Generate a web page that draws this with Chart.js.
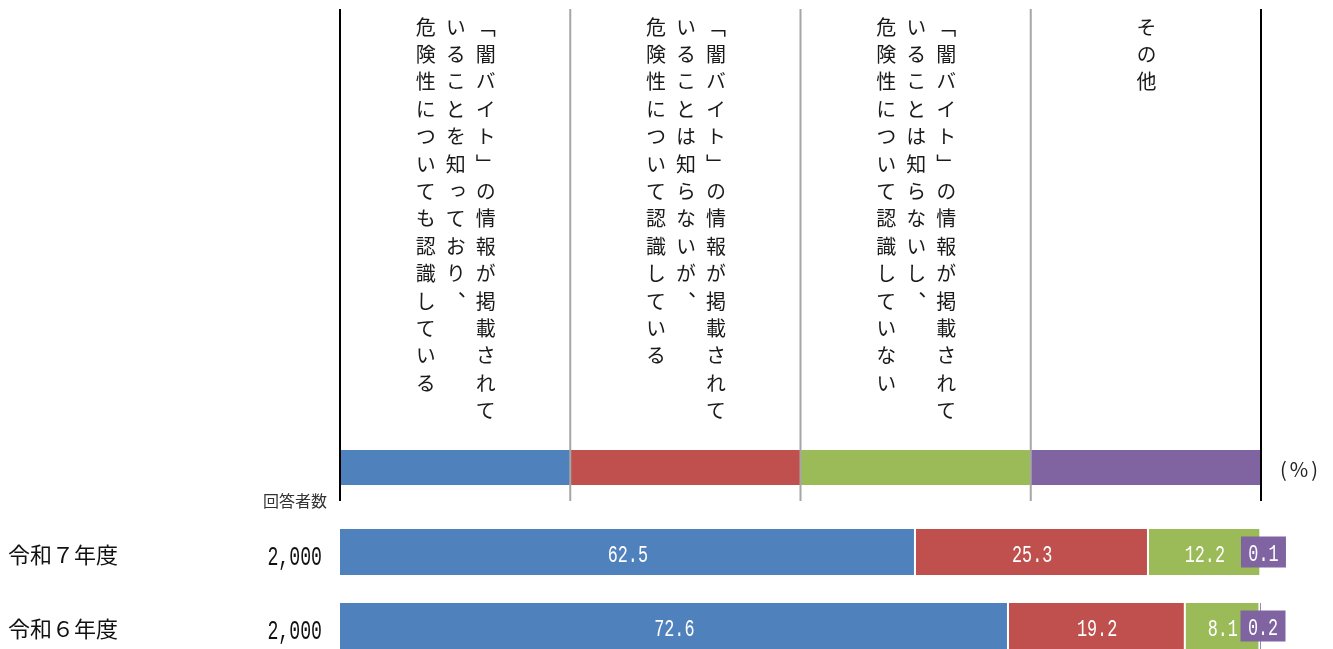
<!DOCTYPE html>
<html><head><meta charset="utf-8">
<script src="https://cdn.jsdelivr.net/npm/chart.js@4.4.1/dist/chart.umd.min.js"></script>
<style>
html,body{margin:0;padding:0;background:#fff;overflow:hidden;}
#wrap{position:relative;width:1333px;height:649px;overflow:hidden;}
#c{position:absolute;left:0;top:0;}
.vt{position:absolute;top:17px;writing-mode:vertical-rl;font-family:"Noto Sans CJK JP";font-size:20px;line-height:30px;letter-spacing:7.4px;white-space:pre;color:#1a1a1a;transform:translateX(-50%);}
</style></head><body>
<div id="wrap"><canvas id="c" width="1333" height="700"></canvas></div>
<script>
const categories = ['令和７年度', '令和６年度'];
const respondents = ['2,000', '2,000'];
const seriesNames = [
  '「闇バイト」の情報が掲載されて\nいることを知っており、\n危険性についても認識している',
  '「闇バイト」の情報が掲載されて\nいることは知らないが、\n危険性について認識している',
  '「闇バイト」の情報が掲載されて\nいることは知らないし、\n危険性について認識していない',
  'その他'
];
const knowAndAware = [62.5, 72.6];
const unknownButAware = [25.3, 19.2];
const unknownNotAware = [12.2, 8.1];
const other = [0.1, 0.2];
const series = [knowAndAware, unknownButAware, unknownNotAware, other];
const colors = ['#4F81BD', '#C0504D', '#9BBB59', '#8064A2'];

const MONO = '"Liberation Mono", "DejaVu Sans Mono", monospace';
const JP_FONT = '"Noto Sans CJK JP", sans-serif';

// vertical header texts (real HTML text)
const vtDivs = seriesNames.map(n => {
  const d = document.createElement('div');
  d.className = 'vt';
  d.textContent = n;
  document.getElementById('wrap').appendChild(d);
  return d;
});

// narrow monospaced number text
function narrowText(ctx, txt, x, y, size, sx, align) {
  ctx.save();
  ctx.font = size + 'px ' + MONO;
  ctx.textAlign = align;
  ctx.textBaseline = 'alphabetic';
  ctx.translate(x, y);
  ctx.scale(sx, 1);
  ctx.fillText(txt, 0, 0);
  ctx.restore();
}

const headerPlugin = {
  id: 'header',
  afterDraw(chart) {
    const ctx = chart.ctx;
    const xs = chart.scales.x;
    const q = [0, 25, 50, 75, 100].map(v => xs.getPixelForValue(v));
    ctx.save();
    for (let i = 0; i < 4; i++) {
      ctx.fillStyle = colors[i];
      ctx.fillRect(q[i], 450, q[i + 1] - q[i], 35);
      vtDivs[i].style.left = ((q[i] + q[i + 1]) / 2) + 'px';
    }
    ctx.strokeStyle = '#A6A6A6';
    ctx.lineWidth = 2;
    for (let i = 1; i < 4; i++) {
      ctx.beginPath(); ctx.moveTo(q[i], 9); ctx.lineTo(q[i], 501); ctx.stroke();
    }
    ctx.strokeStyle = '#000';
    [q[0], q[4]].forEach(x => {
      ctx.beginPath(); ctx.moveTo(x, 9); ctx.lineTo(x, 501); ctx.stroke();
    });
    // unit and respondent header
    ctx.fillStyle = '#222';
    ctx.font = '20px ' + JP_FONT;
    ctx.textBaseline = 'middle';
    ctx.textAlign = 'left';
    ctx.letterSpacing = '3px';
    ctx.fillText('(%)', q[4] + 19, 469);
    ctx.letterSpacing = '0px';
    ctx.font = '16px ' + JP_FONT;
    ctx.textAlign = 'right';
    ctx.fillStyle = '#333';
    ctx.fillText('回答者数', q[0] - 13, 501);
    ctx.restore();
  }
};

const labelPlugin = {
  id: 'labels',
  afterDatasetsDraw(chart) {
    const ctx = chart.ctx;
    ctx.save();
    chart.data.datasets.forEach((ds, di) => {
      const meta = chart.getDatasetMeta(di);
      meta.data.forEach((el, i) => {
        const cx = (el.x + el.base) / 2;
        const txt = ds.data[i].toFixed(1);
        if (di === 3) {
          const bx = cx + 2;
          ctx.fillStyle = colors[3];
          ctx.fillRect(bx - 22.5, el.y - 15.5, 45, 31);
          ctx.fillStyle = '#fff';
          narrowText(ctx, txt, bx, el.y + 9, 24, 0.7, 'center');
        } else {
          ctx.fillStyle = '#fff';
          narrowText(ctx, txt, cx, el.y + 10, 24, 0.7, 'center');
        }
      });
    });
    const meta0 = chart.getDatasetMeta(0);
    meta0.data.forEach((el, i) => {
      ctx.fillStyle = '#111';
      ctx.font = '22px ' + JP_FONT;
      ctx.textAlign = 'left';
      ctx.textBaseline = 'middle';
      ctx.fillText(categories[i], 8, el.y + 3);
      narrowText(ctx, respondents[i], 322, el.y + 13, 28, 0.65, 'right');
    });
    ctx.restore();
  }
};

new Chart(document.getElementById('c'), {
  type: 'bar',
  data: {
    labels: categories,
    datasets: series.map((s, i) => ({
      label: seriesNames[i],
      data: s,
      backgroundColor: colors[i],
      borderColor: '#fff',
      borderWidth: {top: 0, bottom: 0, left: 0, right: 2},
      borderSkipped: false,
      barThickness: 46
    }))
  },
  options: {
    indexAxis: 'y',
    responsive: false,
    animation: false,
    devicePixelRatio: 1,
    layout: {padding: {left: 340, right: 72, top: 515, bottom: 37}},
    scales: {
      x: {stacked: true, min: 0, max: 100, display: false},
      y: {stacked: true, display: false}
    },
    plugins: {legend: {display: false}, tooltip: {enabled: false}}
  },
  plugins: [headerPlugin, labelPlugin]
});
</script>
</body></html>
